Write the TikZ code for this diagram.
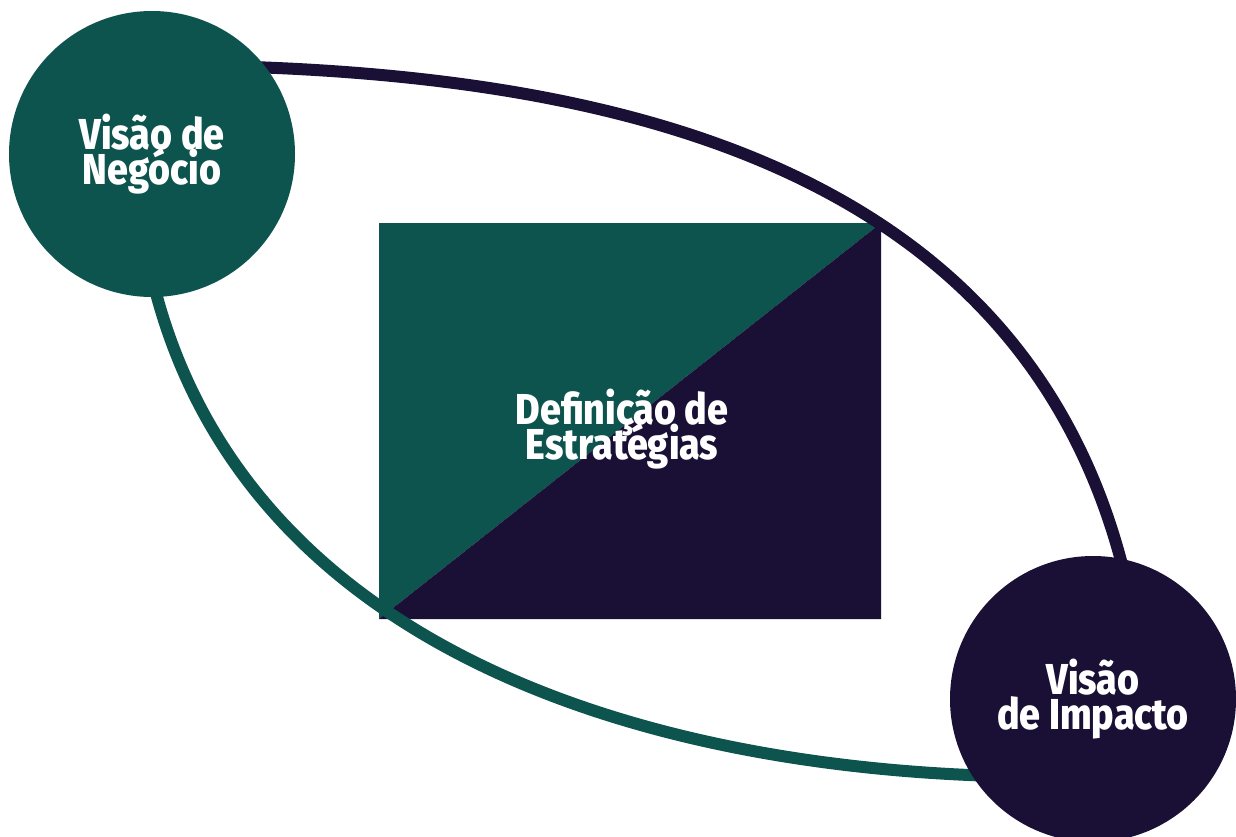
\documentclass[tikz,border=0pt]{standalone}
\usepackage{fontspec}
\setmainfont{Fira Sans}
\newfontfamily\rotulo{Fira Sans ExtraBold}[FakeStretch=0.87]
\usepackage{tikz}
\usetikzlibrary{backgrounds}

\definecolor{verde}{HTML}{0D544F}
\definecolor{escuro}{HTML}{1A1035}

\tikzset{
  letreiro/.style={text=white, align=center,
    font={\rotulo\fontsize{12.3}{10.1}\selectfont\setlength{\lineskiplimit}{-20pt}}},
  visao/.style={circle, fill=#1, minimum size=2.86cm, inner sep=0pt, letreiro},
  arco/.style={line width=0.12cm, shorten <=-0.15cm, shorten >=-0.15cm}
}

\begin{document}
\begin{tikzpicture}
  \useasboundingbox (0,0) rectangle (12.36,8.36);
  \draw (1.52,6.82) node[visao=verde] (negocio) {Visão de\\Negócio};
  \draw (10.93,1.37) node[visao=escuro] (impacto) {Visão\\de Impacto};

  \begin{scope}[on background layer]
    \coordinate (no) at (3.79,6.13);
    \coordinate (ne) at (8.81,6.13);
    \coordinate (so) at (3.79,2.17);
    \coordinate (se) at (8.81,2.17);
    \fill[verde] (no) -- (ne) -- (so) -- cycle;
    \fill[escuro] (ne) -- (se) -- (so) -- cycle;

    \path[arco, color=escuro] (negocio.37) edge[out=-2, in=104] (impacto.79);
    \path[arco, color=verde] (negocio.272) edge[out=-76, in=178, looseness=0.95] (impacto.212);
  \end{scope}

  \draw (6.22,4.07) node[letreiro] (estrategias) {Definição de\\Estratégias};
\end{tikzpicture}
\end{document}
